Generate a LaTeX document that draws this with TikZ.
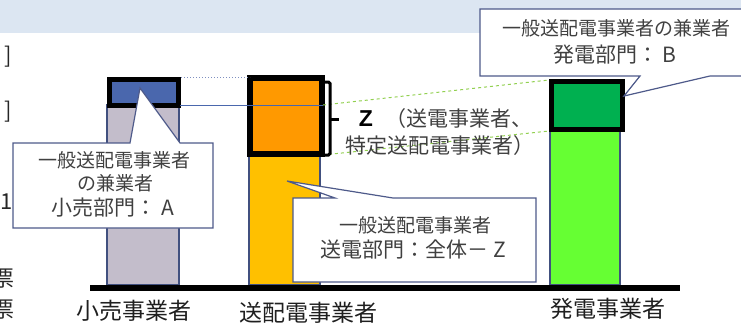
\documentclass[tikz,border=0pt]{standalone}
\usepackage{fontspec}
\setmainfont{Noto Sans CJK JP}
\newfontfamily\zfont{Liberation Sans}
\definecolor{banner}{HTML}{DCE6F2}
\definecolor{barline}{HTML}{41507F}
\definecolor{greybar}{HTML}{C3BDCB}
\definecolor{blueblk}{HTML}{4A67AD}
\definecolor{orangeblk}{HTML}{FF9900}
\definecolor{yellowbar}{HTML}{FFC000}
\definecolor{greenblk}{HTML}{00B050}
\definecolor{lightgreen}{HTML}{66FF33}
\definecolor{callline}{HTML}{4E5A8A}
\definecolor{calltext}{HTML}{404040}
\definecolor{dashgreen}{HTML}{92D050}
\definecolor{dotblue}{HTML}{7F8FC0}
\tikzset{
  bar/.style={draw=barline,line width=1.2pt},
  frame/.style={draw=black,line width=5.5pt},
  callout/.style={draw=callline,fill=white,line width=1.2pt,line join=miter},
  ctext/.style={inner sep=0pt,text=calltext,font=\fontsize{19}{19}\selectfont},
  ctextb/.style={inner sep=0pt,text=calltext,font=\fontsize{21}{21}\selectfont},
  label/.style={inner sep=0pt,text=black!88,font=\fontsize{23}{23}\selectfont},
  frag/.style={inner sep=0pt,text=black!85,font=\fontsize{22}{22}\selectfont},
}
\begin{document}
\begin{tikzpicture}[x=1pt,y=-1pt]
\useasboundingbox (0,0) rectangle (741,325);
\clip (0,0) rectangle (741,325);
% banner
\fill[banner] (0,0) rectangle (741,33);
% left-edge fragments
\node[frag,anchor=west] (fa) at (4,57) {]};
\node[frag,anchor=west] (fb) at (4,112) {]};
\node[frag,anchor=west] (f1) at (0,202) {1};
\node[frag] (fp1) at (3,279) {票};
\node[frag] (fp2) at (3,310) {票};
% bars
\draw[bar,fill=greybar] (107,105) rectangle (179,285);
\draw[bar,fill=yellowbar] (249,154) rectangle (320,285);
\draw[bar,fill=lightgreen] (550,130) rectangle (620,285);
% framed blocks
\fill[blueblk] (109.5,79.5) rectangle (178.5,105.5);
\draw[frame] (109.5,79.5) rectangle (178.5,105.5);
\fill[orangeblk] (250,78) rectangle (322,154);
\draw[frame,line width=6pt] (250,78) rectangle (322,154);
\fill[greenblk] (551.5,81.5) rectangle (622.5,129.5);
\draw[frame] (551.5,81.5) rectangle (622.5,129.5);
% baseline
\draw[line width=6pt] (90,287.5) -- (680,287.5);
% guide lines
\coordinate (d1) at (181,77.5);
\coordinate (d2) at (250,77.5);
\coordinate (s1) at (180,105);
\coordinate (s2) at (323,105);
\coordinate (s3) at (323,155);
\coordinate (g1) at (549,80);
\coordinate (g2) at (549,131);
\draw[dotblue,dotted,line width=1pt] (d1) -- (d2);
\draw[blueblk,line width=1pt] (s1) -- (s2);
\draw[dashgreen,dashed,line width=1pt] (s2) -- (g1);
\draw[dashgreen,dashed,line width=1pt] (s3) -- (g2);
% bracket
\coordinate (b1) at (321,82);
\coordinate (b2) at (330,82);
\coordinate (b3) at (330,155);
\coordinate (b4) at (321,155);
\coordinate (bm) at (330,119);
\coordinate (bt) at (339,119);
\draw[line width=3pt,rounded corners=1.5pt] (b1) -- (b2) -- (b3) -- (b4);
\draw[line width=3pt] (bm) -- (bt);
% Z label
\node[inner sep=0pt,anchor=center] (z) at (366,119) {\zfont\bfseries\fontsize{23}{23}\selectfont Z};
\node[ctextb,anchor=west] (zl1) at (385,119) {（送電事業者、};
\node[ctextb,anchor=west] (zl2) at (345,146) {特定送配電事業者）};
% callout: top right
\draw[callout] (480,9) -- (760,9) -- (760,76) -- (710,76) -- (624,96) -- (640,76) -- (480,76) -- cycle;
\node[ctext] (tr1) at (616,28) {一般送配電事業者の兼業者};
\node[ctextb] (tr2) at (615,55) {発電部門： B};
% callout: left
\draw[callout] (13,143) -- (130,143) -- (140,88) -- (180,143) -- (213,143) -- (213,228) -- (13,228) -- cycle;
\node[ctext] (l1) at (114,160) {一般送配電事業者};
\node[ctext] (l2) at (115,183) {の兼業者};
\node[ctextb] (l3) at (113,208) {小売部門： A};
% callout: middle
\draw[callout] (293,198) -- (335,198) -- (287,181) -- (393,198) -- (536,198) -- (536,282) -- (293,282) -- cycle;
\node[ctext] (m1) at (415,225) {一般送配電事業者};
\node[ctextb] (m2) at (413,250) {送電部門：全体－ Z};
% bottom labels
\node[label] (lb1) at (134,311) {小売事業者};
\node[label] (lb2) at (308,312.5) {送配電事業者};
\node[label] (lb3) at (608,309) {発電事業者};
\end{tikzpicture}
\end{document}
